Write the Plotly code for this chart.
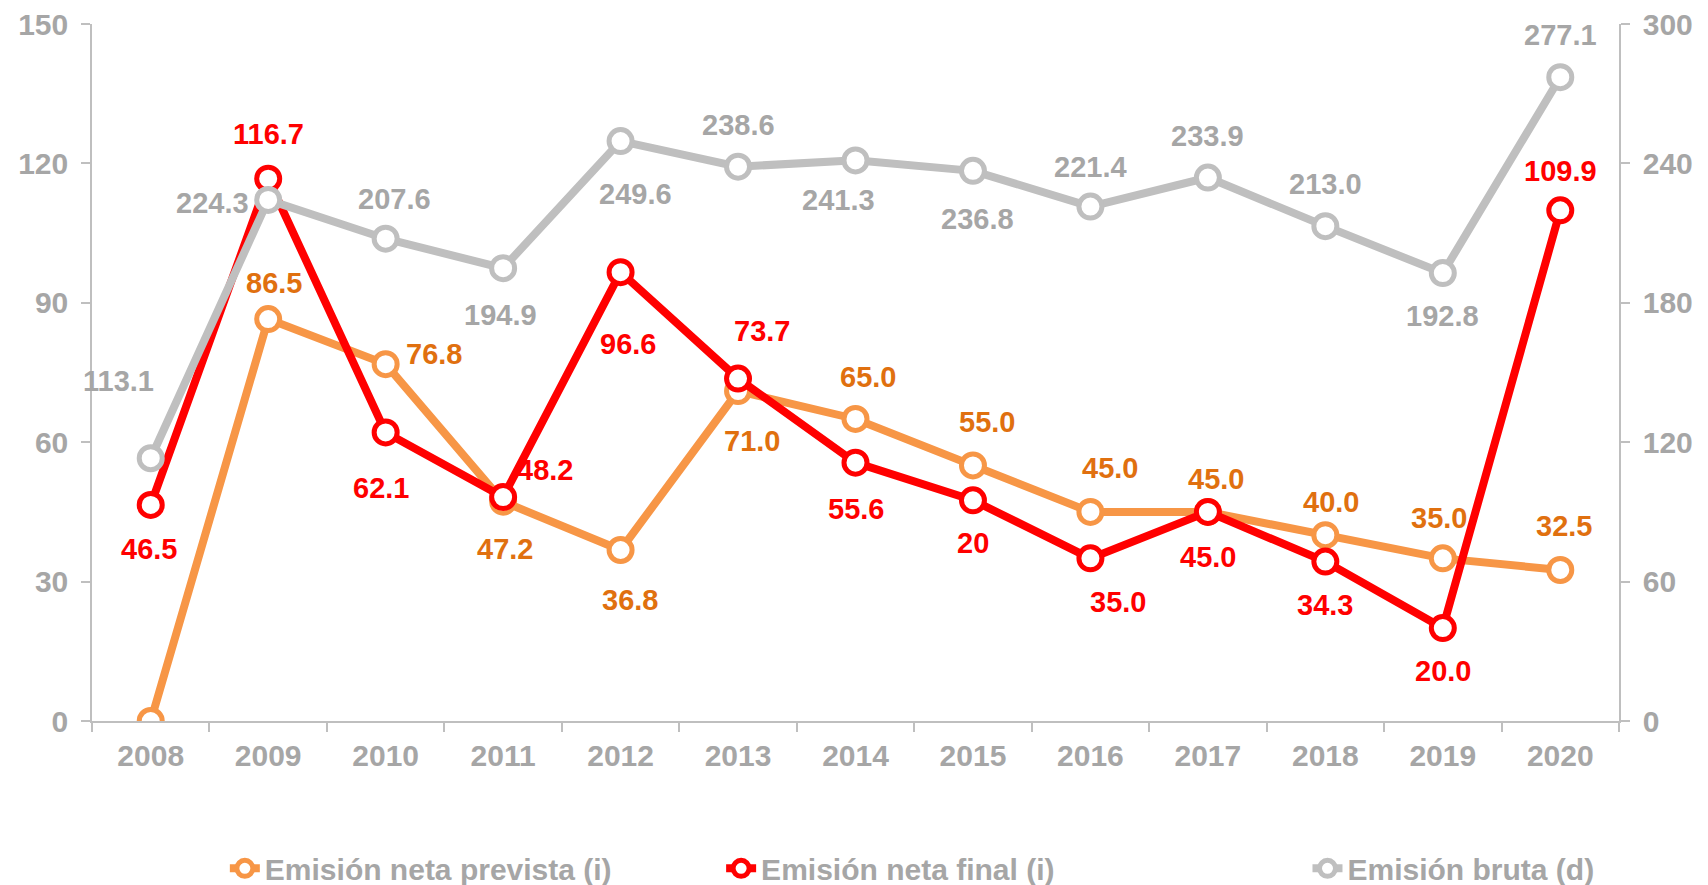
import plotly.graph_objects as go

years = ["2008", "2009", "2010", "2011", "2012", "2013", "2014",
         "2015", "2016", "2017", "2018", "2019", "2020"]
prevista = [0, 86.5, 76.8, 47.2, 36.8, 71.0, 65.0, 55.0, 45.0, 45.0, 40.0, 35.0, 32.5]
final = [46.5, 116.7, 62.1, 48.2, 96.6, 73.7, 55.6, 47.5, 35.0, 45.0, 34.3, 20.0, 109.9]
bruta = [113.1, 224.3, 207.6, 194.9, 249.6, 238.6, 241.3, 236.8, 221.4, 233.9, 213.0, 192.8, 277.1]

prevista_labels = ["", "86.5", "76.8", "47.2", "36.8", "71.0", "65.0", "55.0", "45.0", "45.0", "40.0", "35.0", "32.5"]
final_labels = ["46.5", "116.7", "62.1", "48.2", "96.6", "73.7", "55.6", "20", "35.0", "45.0", "34.3", "20.0", "109.9"]
bruta_labels = ["113.1", "224.3", "207.6", "194.9", "249.6", "238.6", "241.3", "236.8", "221.4", "233.9", "213.0", "192.8", "277.1"]

left_ticks = [0, 30, 60, 90, 120, 150]
right_ticks = [0, 60, 120, 180, 240, 300]

names = ["Emisión neta prevista (i)", "Emisión neta final (i)", "Emisión bruta (d)"]

# label offsets in pixels (dx right, dy down)
off_prev = [None, (6, -36), (48, -10), (2, 47), (9, 50), (14, 50), (12, -42), (14, -43),
            (20, -44), (8, -33), (6, -33), (-4, -40), (4, -44)]
off_final = [(-2, 44), (0, -45), (-5, 56), (42, -27), (7, 72), (24, -48), (0, 46), (0, 43),
             (28, 44), (0, 45), (0, 43), (0, 43), (0, -39)]
off_bruta = [(-32, -77), (-56, 3), (9, -40), (-3, 47), (15, 53), (0, -42), (-17, 40), (5, 48),
             (0, -40), (0, -42), (0, -42), (0, 43), (0, -42)]

FONT = "Liberation Sans, Arial, sans-serif"
GRAY_TXT = "#a6a6a6"
ORANGE = "#f79646"
ORANGE_TXT = "#e0700f"
RED = "#ff0000"
GRAY = "#bfbfbf"

fig = go.Figure()

def add_series(y, name, color, yaxis, legend):
    fig.add_trace(go.Scatter(
        x=years, y=y, name=name, mode="lines+markers", yaxis=yaxis, legend=legend,
        line=dict(color=color, width=8),
        marker=dict(symbol="circle", size=23, color="white", line=dict(color=color, width=5)),
        hoverinfo="skip",
    ))

add_series(prevista, names[0], ORANGE, "y", "legend")
add_series(final, names[1], RED, "y", "legend2")
add_series(bruta, names[2], GRAY, "y2", "legend3")

def add_labels(vals, labels, offs, color, yref):
    # category axis: annotation x given as the category's serial number
    for i, (v, t, o) in enumerate(zip(vals, labels, offs)):
        if o is None or t == "":
            continue
        fig.add_annotation(x=i, y=v, xref="x", yref=yref, text="<b>" + t + "</b>",
                           showarrow=False, xshift=o[0], yshift=-o[1],
                           font=dict(family=FONT, size=29, color=color))

add_labels(prevista, prevista_labels, off_prev, ORANGE_TXT, "y")
add_labels(final, final_labels, off_final, RED, "y")
add_labels(bruta, bruta_labels, off_bruta, GRAY_TXT, "y2")

tickfont = dict(family=FONT, size=30, color=GRAY_TXT, weight="bold")
axis_common = dict(showgrid=False, zeroline=False, showline=True, linecolor=GRAY, linewidth=1.5,
                   tickcolor=GRAY, tickwidth=1.5, ticklen=9, ticklabeloverflow="allow",
                   ticklabelstandoff=7, automargin=False)

legend_common = dict(orientation="h", yanchor="middle", y=0.019, yref="container", xanchor="left",
                     font=dict(family=FONT, size=30, color=GRAY_TXT, weight="bold"),
                     bgcolor="rgba(0,0,0,0)", itemwidth=30, tracegroupgap=0)

fig.update_layout(
    width=1700, height=877,
    margin=dict(l=84, r=89, t=16, b=164, autoexpand=False),
    paper_bgcolor="white", plot_bgcolor="white",
    showlegend=True,
    xaxis=dict(type="category", categoryorder="array", categoryarray=years,
               range=[-0.5, 12.5], ticks="outside", tickson="boundaries",
               tickfont=tickfont, **axis_common),
    yaxis=dict(range=[0, 150], tickvals=left_ticks, ticks="outside", tickfont=tickfont,
               **axis_common),
    yaxis2=dict(range=[0, 300], tickvals=right_ticks, ticks="outside", overlaying="y",
                side="right", tickfont=tickfont, **axis_common),
    legend=dict(x=0.087, **legend_common),
    legend2=dict(x=0.412, **legend_common),
    legend3=dict(x=0.796, **legend_common),
)

fig.write_html("out.html")
